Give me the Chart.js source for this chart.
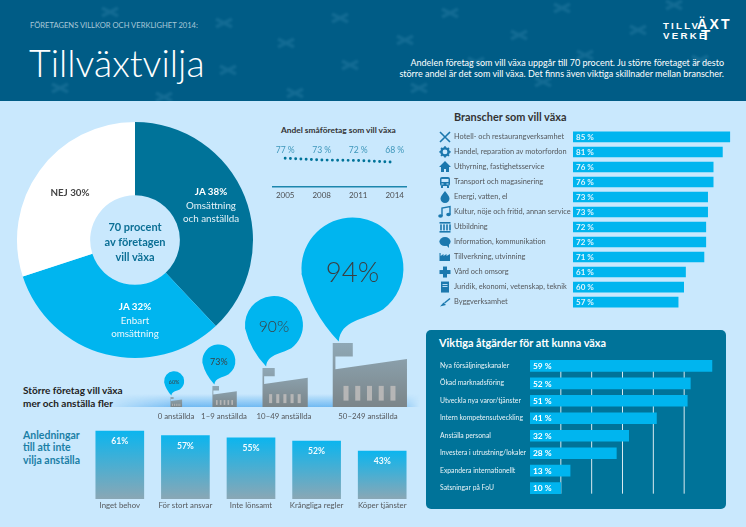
<!DOCTYPE html>
<html lang="sv">
<head>
<meta charset="utf-8">
<title>Tillväxtvilja</title>
<script src="https://cdn.jsdelivr.net/npm/chart.js@4"></script>
<style>
  html, body { margin: 0; padding: 0; background: #c9e8fd; }
  #page { position: relative; width: 746px; height: 527px; overflow: hidden; background: #c9e8fd; font-family: Lato, sans-serif; }
  #header { position: absolute; left: 0; top: 0; width: 746px; height: 101px; background: #005c86; }
  .t { position: absolute; white-space: nowrap; line-height: 1; transform: translateY(-50%); }
  .c { text-align: center; transform: translate(-50%, -50%); }
  .r { text-align: right; transform: translate(-100%, -50%); }
  .logo { font-family: "Liberation Sans Narrow", "Liberation Sans", sans-serif; font-weight: 700; color: #fff; }
  canvas { position: absolute; display: block; }
  #glow { position: absolute; left: 100px; top: 394px; width: 320px; height: 13px;
    background: linear-gradient(to bottom, rgba(112,185,242,0), rgba(112,185,242,1));
    -webkit-mask-image: linear-gradient(to right, transparent, black 25%, black 92%, transparent); }
  #panel { position: absolute; left: 426px; top: 330px; width: 300px; height: 179px; border-radius: 5px; background: #007399; }
</style>
</head>
<body>
<div id="page">
  <div id="header">
    <svg width="746" height="101" style="position:absolute;left:0;top:0">
      <defs><filter id="soft"><feGaussianBlur stdDeviation="1.3"/></filter></defs>
      <g id="marks" filter="url(#soft)" stroke="#3c8db2" stroke-width="3.5" opacity="0.3"></g>
    </svg>
  </div>
  <div class="t" style="left:30px;top:26px;font-size:7.6px;color:#a8c8d8">FÖRETAGENS VILLKOR OCH VERKLIGHET 2014:</div>
  <div class="t" style="left:29px;top:63px;font-size:37.5px;font-weight:300;color:#fff">Tillväxtvilja</div>
  <div class="t r" style="left:724px;top:62px;font-size:9px;color:#fff">Andelen företag som vill växa uppgår till 70 procent. Ju större företaget är desto</div>
  <div class="t r" style="left:724px;top:73px;font-size:9px;color:#fff">större andel är det som vill växa. Det finns även viktiga skillnader mellan branscher.</div>
  <div class="t logo" style="left:663px;top:25.5px;font-size:9.7px;letter-spacing:2.2px">TILLV</div>
  <div class="t logo" style="left:697px;top:23.5px;font-size:14px;letter-spacing:2.3px">ÄXT</div>
  <div class="t logo" style="left:663px;top:35.5px;font-size:9.7px;letter-spacing:2.3px">VERKE</div>
  <div class="t logo" style="left:701px;top:33.5px;font-size:15px">T</div>

  <canvas id="pieChart" style="left:15px;top:120px"></canvas>
  <div class="t c" style="left:135px;top:226px;font-size:11px;font-weight:700;color:#0b6f95">70 procent</div>
  <div class="t c" style="left:135px;top:241px;font-size:11px;font-weight:700;color:#0b6f95">av företagen</div>
  <div class="t c" style="left:135px;top:256px;font-size:11px;font-weight:700;color:#0b6f95">vill växa</div>
  <div class="t c" style="left:211px;top:192px;font-size:9.8px;font-weight:700;color:#fff">JA 38%</div>
  <div class="t c" style="left:211px;top:205.5px;font-size:9.8px;color:#e4f2f8">Omsättning</div>
  <div class="t c" style="left:211px;top:218.5px;font-size:9.8px;color:#e4f2f8">och anställda</div>
  <div class="t c" style="left:70px;top:192.5px;font-size:9.8px;font-weight:700;color:#444">NEJ 30%</div>
  <div class="t c" style="left:135px;top:307px;font-size:9.8px;font-weight:700;color:#fff">JA 32%</div>
  <div class="t c" style="left:135px;top:320.5px;font-size:9.8px;color:#eaf7fd">Enbart</div>
  <div class="t c" style="left:135px;top:333.5px;font-size:9.8px;color:#eaf7fd">omsättning</div>

  <div class="t" style="left:281px;top:130px;font-size:8.4px;font-weight:700;color:#333">Andel småföretag som vill växa</div>
  <canvas id="smallChart" style="left:266px;top:140px"></canvas>

  <div class="t" style="left:454px;top:117px;font-size:10.9px;font-weight:700;color:#333">Branscher som vill växa</div>
  <canvas id="branchChart" style="left:436px;top:125px"></canvas>

  <div id="panel"></div>
  <div class="t" style="left:439px;top:343px;font-size:10.9px;font-weight:700;color:#fff">Viktiga åtgärder för att kunna växa</div>
  <canvas id="actionChart" style="left:440px;top:353px"></canvas>

  <div id="glow"></div>
  <div class="t" style="left:23px;top:390px;font-size:10px;font-weight:700;color:#222">Större företag vill växa</div>
  <div class="t" style="left:23px;top:403px;font-size:10px;font-weight:700;color:#222">mer och anställa fler</div>
  <canvas id="sizeChart" style="left:150px;top:205px"></canvas>

  <div class="t" style="left:23px;top:435px;font-size:10.5px;font-weight:700;color:#1b7fa6">Anledningar</div>
  <div class="t" style="left:23px;top:447px;font-size:10.5px;font-weight:700;color:#1b7fa6">till att inte</div>
  <div class="t" style="left:23px;top:460px;font-size:10.5px;font-weight:700;color:#1b7fa6">vilja anställa</div>
  <canvas id="reasonChart" style="left:87px;top:425px"></canvas>
</div>

<script>
// Data
const pieLabels = ["JA 38% Omsättning och anställda", "JA 32% Enbart omsättning", "NEJ 30%"];
const pieValues = [38, 32, 30];

const smallYears = [2005, 2008, 2011, 2014];
const smallValues = [77, 73, 72, 68];

const branchLabels = [
  "Hotell- och restaurangverksamhet",
  "Handel, reparation av motorfordon",
  "Uthyrning, fastighetsservice",
  "Transport och magasinering",
  "Energi, vatten, el",
  "Kultur, nöje och fritid, annan service",
  "Utbildning",
  "Information, kommunikation",
  "Tillverkning, utvinning",
  "Vård och omsorg",
  "Juridik, ekonomi, vetenskap, teknik",
  "Byggverksamhet",
];
const branchValues = [85, 81, 76, 76, 73, 73, 72, 72, 71, 61, 60, 57];

const actionLabels = [
  "Nya försäljningskanaler",
  "Ökad marknadsföring",
  "Utveckla nya varor/tjänster",
  "Intern kompetensutveckling",
  "Anställa personal",
  "Investera i utrustning/lokaler",
  "Expandera internationellt",
  "Satsningar på FoU",
];
const actionValues = [59, 52, 51, 41, 32, 28, 13, 10];

const sizeLabels = ["0 anställda", "1–9 anställda", "10–49 anställda", "50–249 anställda"];
const sizeValues = [60, 73, 90, 94];

const reasonLabels = ["Inget behov", "För stort ansvar", "Inte lönsamt", "Krångliga regler", "Köper tjänster"];
const reasonValues = [61, 57, 55, 52, 43];

// Drawing settings, not data
const FONT = "Lato, sans-serif";
const DARK = "#007399";
const LIGHT = "#00b5ef";
const sizeSlots = [26, 74, 134, 218];
const factoryHeights = [10, 21, 39, 64];
const bubbleRadius = [10, 16.5, 29, 51];
const headerMarks = [[340,18],[450,13],[562,8],[674,5],[286,43],[405,40],[519,35],[638,30],[350,65],[228,70],[476,62],[585,55],[295,93],[419,88],[164,97],[543,82],[224,23],[110,12],[60,88],[700,60]];

Chart.defaults.font.family = FONT;
Chart.defaults.animation = false;
Chart.defaults.responsive = false;
Chart.defaults.plugins.legend.display = false;
Chart.defaults.plugins.tooltip.enabled = false;

function setSize(id, w, h) {
  const canvas = document.getElementById(id);
  canvas.width = w;
  canvas.height = h;
  canvas.style.width = w + "px";
  canvas.style.height = h + "px";
  return canvas;
}

// header pattern
const marksGroup = document.getElementById("marks");
headerMarks.forEach(([x, y]) => {
  const path = document.createElementNS("http://www.w3.org/2000/svg", "path");
  path.setAttribute("d", `M${x - 8} ${y - 4}L${x + 8} ${y + 4}M${x + 8} ${y - 4}L${x - 8} ${y + 4}`);
  marksGroup.appendChild(path);
});

// writes "NN %" inside the start of each horizontal bar
const barValueLabels = {
  id: "barValueLabels",
  afterDatasetsDraw(chart, args, opts) {
    const { ctx } = chart;
    ctx.save();
    ctx.font = `700 ${opts.size}px ${FONT}`;
    ctx.fillStyle = opts.color;
    ctx.textBaseline = "middle";
    chart.getDatasetMeta(0).data.forEach((bar, i) => {
      ctx.fillText(chart.data.datasets[0].data[i] + " %", bar.base + 3, bar.y + 0.5);
    });
    ctx.restore();
  },
};

// small blue icons to the left of the branch labels
const branchIcons = {
  id: "branchIcons",
  afterDraw(chart) {
    const { ctx } = chart;
    const y = chart.scales.y;
    const icons = [
      (c) => { c.lineWidth = 1.6; c.beginPath(); c.moveTo(-5, -5); c.lineTo(5, 5); c.moveTo(5, -5); c.lineTo(-5, 5); c.stroke(); },
      (c) => {
        c.beginPath(); c.arc(0, 0, 3.6, 0, 7); c.lineWidth = 2.4; c.stroke();
        c.lineWidth = 1.8;
        for (let a = 0; a < 8; a++) {
          const t = (a * Math.PI) / 4;
          c.beginPath(); c.moveTo(Math.cos(t) * 4, Math.sin(t) * 4); c.lineTo(Math.cos(t) * 5.6, Math.sin(t) * 5.6); c.stroke();
        }
      },
      (c) => { c.beginPath(); c.moveTo(0, -6); c.lineTo(6, 0); c.lineTo(4, 0); c.lineTo(4, 5); c.lineTo(1, 5); c.lineTo(1, 2); c.lineTo(-1, 2); c.lineTo(-1, 5); c.lineTo(-4, 5); c.lineTo(-4, 0); c.lineTo(-6, 0); c.closePath(); c.fill(); },
      (c) => { c.beginPath(); c.roundRect(-5, -5, 10, 9, 2); c.fill(); c.fillRect(-4, 4, 2, 2); c.fillRect(2, 4, 2, 2); c.fillStyle = "#c9e8fd"; c.fillRect(-3.5, -3, 7, 3); c.fillRect(-3.5, 1.5, 2, 1); c.fillRect(1.5, 1.5, 2, 1); },
      (c) => { c.beginPath(); c.moveTo(0, -6); c.bezierCurveTo(2, -3, 4.5, -1, 4.5, 1.5); c.arc(0, 1.5, 4.5, 0, Math.PI); c.bezierCurveTo(-4.5, -1, -2, -3, 0, -6); c.fill(); },
      (c) => { c.lineWidth = 1.4; c.beginPath(); c.moveTo(-3, 4); c.lineTo(-3, -4); c.lineTo(5, -5.5); c.lineTo(5, 2.5); c.stroke(); c.beginPath(); c.ellipse(-4.5, 4, 2.3, 1.8, 0, 0, 7); c.ellipse(3.5, 2.5, 2.3, 1.8, 0, 0, 7); c.fill(); },
      (c) => { c.fillRect(-5.5, -5, 11, 1.6); c.fillRect(-5.5, 4, 11, 1.6); for (let k = 0; k < 4; k++) c.fillRect(-4.8 + k * 3, -2.6, 1.6, 6); },
      (c) => { c.beginPath(); c.ellipse(0, -0.5, 5.6, 4.4, 0, 0, 7); c.fill(); c.beginPath(); c.moveTo(1, 3); c.lineTo(4, 6); c.lineTo(4, 2); c.fill(); },
      (c) => { c.beginPath(); c.moveTo(-5.5, 4); c.lineTo(-5.5, -4); c.lineTo(-4.4, -4); c.lineTo(-4.4, -1); c.lineTo(-1.5, -3); c.lineTo(-1.5, -1); c.lineTo(1.5, -3); c.lineTo(1.5, -1); c.lineTo(5, -3); c.lineTo(5, 4); c.closePath(); c.fill(); },
      (c) => { c.fillRect(-5.5, -2, 11, 4); c.fillRect(-2, -5.5, 4, 11); },
      (c) => { c.fillRect(-4, -5.5, 8, 11); c.fillStyle = "#c9e8fd"; c.fillRect(-2.5, -3, 5, 0.9); c.fillRect(-2.5, -1, 5, 0.9); },
      (c) => { c.beginPath(); c.moveTo(-5, 4.5); c.lineTo(-1.5, 0.5); c.lineTo(1, 3); c.closePath(); c.fill(); c.lineWidth = 1.4; c.beginPath(); c.moveTo(-0.5, 1); c.lineTo(5, -3.5); c.stroke(); },
    ];
    icons.forEach((draw, i) => {
      ctx.save();
      ctx.translate(9, y.getPixelForValue(i));
      ctx.fillStyle = ctx.strokeStyle = "#1b78ae";
      draw(ctx);
      ctx.restore();
    });
  },
};

// white rules behind the action bars, from the first bar down to the end of the last
const actionGrid = {
  id: "actionGrid",
  beforeDatasetsDraw(chart) {
    const { ctx } = chart;
    const { x, y } = chart.scales;
    const top = y.getPixelForValue(0);
    const bottom = y.getPixelForValue(actionValues.length - 1) + 5.5;
    ctx.save();
    ctx.strokeStyle = "rgba(255,255,255,0.85)";
    ctx.lineWidth = 1;
    [10, 20, 30, 40, 50].forEach((v) => {
      ctx.beginPath();
      ctx.moveTo(x.getPixelForValue(v), top);
      ctx.lineTo(x.getPixelForValue(v), bottom);
      ctx.stroke();
    });
    ctx.restore();
  },
};

// factory with a speech bubble above it, one per company size
const factoryBubbles = {
  id: "factoryBubbles",
  afterDatasetsDraw(chart) {
    const { ctx } = chart;
    const base = chart.scales.y.getPixelForValue(0);
    chart.getDatasetMeta(0).data.forEach((pt, i) => {
      const h = base - pt.y;
      const w = h * 1.16;
      const left = pt.x - w / 2 + w * 0.025;
      const grad = ctx.createLinearGradient(0, pt.y, 0, base);
      grad.addColorStop(0, "#8fa8b6");
      grad.addColorStop(1, "#7b8589");

      ctx.fillStyle = grad;
      ctx.beginPath();
      ctx.moveTo(left, base);
      ctx.lineTo(left, pt.y);
      ctx.lineTo(left + w * 0.27, pt.y);
      ctx.lineTo(left + w * 0.27, pt.y + h * 0.21);
      ctx.lineTo(left + w * 0.036, pt.y + h * 0.21);
      ctx.lineTo(left + w * 0.036, pt.y + h * 0.41);
      ctx.lineTo(left + w, pt.y + h * 0.25);
      ctx.lineTo(left + w, base);
      ctx.closePath();
      ctx.fill();

      ctx.fillStyle = "#b6b6b6";
      for (let k = 0; k < 5; k++) {
        ctx.fillRect(left + w * (0.145 + k * 0.158), base - h * 0.33, w * 0.068, h * 0.23);
      }

      const r = bubbleRadius[i];
      const tipX = left + w * 0.08;
      const tipY = pt.y - 1.5;
      const cx = tipX + r * 0.27;
      const cy = tipY - r * 1.43;
      ctx.fillStyle = LIGHT;
      ctx.beginPath();
      ctx.arc(cx, cy, r, Math.PI * 0.97, 0.93);
      ctx.bezierCurveTo(cx + r * 0.2, cy + r * 1.02, cx - r * 0.22, cy + r * 1.0, tipX, tipY);
      ctx.quadraticCurveTo(cx - r * 0.82, cy + r * 0.85, cx - r, cy + r * 0.1);
      ctx.closePath();
      ctx.fill();

      ctx.fillStyle = "#3a3f42";
      ctx.font = `${i > 1 ? 300 : 400} ${r * 0.54}px ${FONT}`;
      ctx.textAlign = "center";
      ctx.textBaseline = "middle";
      ctx.fillText(sizeValues[i] + "%", cx, cy + r * 0.08);
    });
  },
};

// white figure near the top of each reason bar
const reasonValueLabels = {
  id: "reasonValueLabels",
  afterDatasetsDraw(chart) {
    const { ctx } = chart;
    ctx.save();
    ctx.font = `700 8.6px ${FONT}`;
    ctx.fillStyle = "#f2fbff";
    ctx.textAlign = "center";
    ctx.textBaseline = "middle";
    chart.getDatasetMeta(0).data.forEach((bar, i) => {
      ctx.fillText(reasonValues[i] + "%", bar.x, bar.y + 10.5);
    });
    ctx.restore();
  },
};

// figures above the dotted line
const smallValueLabels = {
  id: "smallValueLabels",
  afterDatasetsDraw(chart) {
    const { ctx } = chart;
    ctx.save();
    ctx.font = `8.6px ${FONT}`;
    ctx.fillStyle = "#3d96ba";
    ctx.textAlign = "center";
    ctx.textBaseline = "middle";
    chart.getDatasetMeta(0).data.forEach((pt, i) => {
      ctx.fillText(smallValues[i] + " %", pt.x, 10);
    });
    ctx.restore();
  },
};

window.onload = () => {
  new Chart(setSize("pieChart", 240, 240), {
    type: "doughnut",
    data: {
      labels: pieLabels,
      datasets: [{ data: pieValues, backgroundColor: [DARK, LIGHT, "#ffffff"], borderWidth: 0 }],
    },
    options: { cutout: "38%", layout: { padding: 2 } },
  });

  new Chart(setSize("smallChart", 142, 62), {
    type: "line",
    data: {
      datasets: [{
        data: smallYears.map((year, i) => ({ x: year, y: smallValues[i] })),
        borderColor: DARK,
        borderWidth: 2.9,
        borderDash: [0, 5.25],
        borderCapStyle: "round",
        pointRadius: 0,
        tension: 0,
      }],
    },
    options: {
      layout: { padding: { left: 7 } },
      scales: {
        x: {
          type: "linear",
          min: 2004,
          max: 2015,
          afterBuildTicks: (scale) => { scale.ticks = smallYears.map((value) => ({ value })); },
          afterFit: (scale) => { scale.height = 15.7; },
          grid: { display: false, drawTicks: false },
          border: { color: "#1c86ad", width: 1.4 },
          ticks: { color: "#4d4f52", font: { size: 8 }, padding: 4, maxRotation: 0, autoSkip: false, callback: (v) => String(v) },
        },
        y: { display: false, min: 14, max: 118 },
      },
    },
    plugins: [smallValueLabels],
  });

  new Chart(setSize("branchChart", 303, 189), {
    type: "bar",
    data: {
      labels: branchLabels,
      datasets: [{ data: branchValues, backgroundColor: LIGHT, barThickness: 10 }],
    },
    options: {
      indexAxis: "y",
      layout: { padding: { left: 18 } },
      scales: {
        x: { display: false, min: 0, max: 90 },
        y: {
          afterFit: (scale) => { scale.width = 119; },
          grid: { display: false, drawTicks: false },
          border: { display: false },
          ticks: { color: "#55585c", font: { size: 7.4 }, crossAlign: "far", padding: 0, autoSkip: false },
        },
      },
      plugins: { barValueLabels: { size: 8, color: "#dff4fd" } },
    },
    plugins: [barValueLabels, branchIcons],
  });

  new Chart(setSize("actionChart", 275, 148), {
    type: "bar",
    data: {
      labels: actionLabels,
      datasets: [{ data: actionValues, backgroundColor: LIGHT, barThickness: 11 }],
    },
    options: {
      indexAxis: "y",
      scales: {
        x: { display: false, min: 0, max: 60 },
        y: {
          afterFit: (scale) => { scale.width = 90; },
          grid: { display: false, drawTicks: false },
          border: { display: false },
          ticks: { color: "#e8f3f7", font: { size: 6.8 }, crossAlign: "far", padding: 0, autoSkip: false },
        },
      },
      plugins: { barValueLabels: { size: 8.4, color: "#ffffff" } },
    },
    plugins: [actionGrid, barValueLabels],
  });

  new Chart(setSize("sizeChart", 270, 222), {
    type: "scatter",
    data: {
      datasets: [{
        label: "Andel som vill växa",
        data: sizeSlots.map((x, i) => ({ x, y: factoryHeights[i] })),
        pointRadius: 0,
      }],
    },
    options: {
      scales: {
        x: {
          type: "linear",
          min: 0,
          max: 270,
          afterBuildTicks: (scale) => { scale.ticks = sizeSlots.map((value) => ({ value })); },
          afterFit: (scale) => { scale.height = 20; },
          grid: { display: false, drawTicks: false },
          border: { display: false },
          ticks: {
            color: "#55585c",
            font: { size: 7.8 },
            padding: 5,
            autoSkip: false,
            maxRotation: 0,
            callback: (v) => sizeLabels[sizeSlots.indexOf(v)],
          },
        },
        y: { display: false, min: 0, max: 202 },
      },
    },
    plugins: [factoryBubbles],
  });

  new Chart(setSize("reasonChart", 328, 88), {
    type: "bar",
    data: {
      labels: reasonLabels,
      datasets: [{
        data: reasonValues,
        barThickness: 48,
        backgroundColor: (c) => {
          const y = c.chart.scales.y;
          const top = y ? y.getPixelForValue(c.raw) : NaN;
          const bottom = y ? y.getPixelForValue(0) : NaN;
          if (!Number.isFinite(top) || !Number.isFinite(bottom)) return LIGHT;
          const g = c.chart.ctx.createLinearGradient(0, top, 0, bottom);
          g.addColorStop(0, "#0cb5ee");
          g.addColorStop(1, "#8aa7b5");
          return g;
        },
      }],
    },
    options: {
      scales: {
        x: {
          afterFit: (scale) => { scale.height = 14; },
          grid: { display: false, drawTicks: false },
          border: { display: false },
          ticks: { color: "#55585c", font: { size: 7.8 }, padding: 2, autoSkip: false, maxRotation: 0 },
        },
        y: { display: false, min: 0, max: 66.5 },
      },
    },
    plugins: [reasonValueLabels],
  });
};
</script>
</body>
</html>
